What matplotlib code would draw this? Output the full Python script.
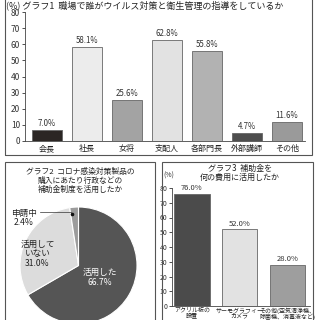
import matplotlib
matplotlib.use('Agg')
import matplotlib.pyplot as plt
from matplotlib.patches import Rectangle

plt.rcParams['font.family'] = ['Noto Sans CJK JP', 'DejaVu Sans']

# グラフ1
roles = ['会長', '社長', '女将', '支配人', '各部門長', '外部講師', 'その他']
role_pct = [7.0, 58.1, 25.6, 62.8, 55.8, 4.7, 11.6]
role_colors = ['#2b2624', '#ececec', '#a3a3a3', '#e2e2e2', '#b2b2b2', '#4e4e4e', '#9a9a9a']

# グラフ2
pie_labels = ['活用した', '活用して\nいない', '申請中']
pie_pct = [66.7, 31.0, 2.4]
pie_colors = ['#555555', '#dcdcdc', '#9c9c9c']

# グラフ3
uses = ['アクリル板の\n設置', 'サーモグラフィー\nカメラ', 'その他(空気清浄機、\n除菌機、消毒液など)']
use_pct = [76.0, 52.0, 28.0]
use_colors = ['#4b4b4b', '#e2e2e2', '#9e9e9e']

W = 320
fig = plt.figure(figsize=(3.2, 3.2), dpi=100)
fig.patch.set_facecolor('white')


def box(x0, y0, x1, y1):
    # pixel coords (top-left origin) -> figure rectangle
    r = Rectangle((x0 / W, 1 - y1 / W), (x1 - x0) / W, (y1 - y0) / W,
                  transform=fig.transFigure, fill=False, lw=0.8, ec='#555555')
    fig.add_artist(r)


def style_axis(ax, size=6):
    for s in ['top', 'right']:
        ax.spines[s].set_visible(False)
    ax.spines['left'].set_color('#444444')
    ax.spines['bottom'].set_color('#444444')
    ax.spines['left'].set_linewidth(0.6)
    ax.spines['bottom'].set_linewidth(0.6)
    ax.tick_params(axis='y', length=2.5, width=0.6, pad=1, labelsize=size, colors='#333333')
    ax.tick_params(axis='x', length=0, pad=2, labelsize=5.8, colors='#222222')


# --- Graph 1 ---
box(5, -2, 312, 155)
fig.text(6 / W, 1 - 5 / W, '(%) グラフ1  職場で誰がウイルス対策と衛生管理の指導をしているか',
         fontsize=6.5, va='center', ha='left', color='#222222')
ax1 = fig.add_axes([25 / W, 179 / W, 280 / W, 129 / W])
x1 = range(len(roles))
ax1.bar(x1, role_pct, width=0.75, color=role_colors, edgecolor='#666666', linewidth=0.6)
for i, v in enumerate(role_pct):
    ax1.text(i, v + 1.2, f'{v:.1f}%', ha='center', va='bottom', fontsize=5.7, color='#333333')
ax1.set_xlim(-0.55, 6.45)
ax1.set_ylim(0, 80)
ax1.set_yticks(range(0, 81, 10))
ax1.set_xticks(list(x1))
ax1.set_xticklabels(roles)
style_axis(ax1, 6)

# --- Graph 2 ---
box(5, 162, 155, 325)
fig.text(80 / W, 1 - 181 / W, 'グラフ2  コロナ感染対策製品の\n購入にあたり行政などの\n補助金制度を活用したか',
         fontsize=5.6, ha='center', va='center', linespacing=1.1, style='italic', color='#222222')
R = 58.5
ax2 = fig.add_axes([(78.5 - R) / W, 1 - (265.5 + R) / W, 2 * R / W, 2 * R / W])
ax2.pie(pie_pct, colors=pie_colors, startangle=90, counterclock=False,
        wedgeprops=dict(edgecolor='white', linewidth=0.8))
ax2.set_xlim(-1, 1)
ax2.set_ylim(-1, 1)
ax2.set_aspect('equal')
ax2.text(0.37, -0.2, pie_labels[0] + '\n66.7%', ha='center', va='center', fontsize=6.2,
         color='white', linespacing=1.1)
ax2.text(-0.7, 0.2, pie_labels[1] + '\n31.0%', ha='center', va='center', fontsize=6.2,
         color='#222222', linespacing=1.1)
fig.text(24 / W, 1 - 218 / W, pie_labels[2] + '\n2.4%', ha='center', va='center', fontsize=6.2,
         color='#222222', linespacing=1.1)
fig.add_artist(plt.Line2D([40 / W, 71 / W], [1 - 212 / W, 1 - 212 / W],
                          transform=fig.transFigure, lw=0.5, color='#333333'))
fig.add_artist(plt.Line2D([72 / W], [1 - 213.5 / W], transform=fig.transFigure,
                          marker='o', ms=1.6, color='#111111'))

# --- Graph 3 ---
box(162, 162, 313, 325)
fig.text(240 / W, 1 - 173 / W, 'グラフ3  補助金を\n何の費用に活用したか',
         fontsize=5.8, ha='center', va='center', linespacing=1.1, style='italic', color='#222222')
fig.text(163 / W, 1 - 176 / W, '(%)', fontsize=5, ha='left', va='center', color='#333333')
ax3 = fig.add_axes([172 / W, 14 / W, 138 / W, 118 / W])
x3 = range(len(uses))
ax3.bar(x3, use_pct, width=0.74, color=use_colors, edgecolor='#666666', linewidth=0.6)
for i, v in enumerate(use_pct):
    ax3.text(i, v + 1.0, f'{v:.1f}%', ha='center', va='bottom', fontsize=5.5, color='#333333')
ax3.set_xlim(-0.42, 2.48)
ax3.set_ylim(0, 80)
ax3.set_yticks(range(0, 81, 10))
ax3.set_xticks(list(x3))
ax3.set_xticklabels(uses, linespacing=1.0)
style_axis(ax3, 5)
ax3.tick_params(axis='x', labelsize=4.3, pad=1)

fig.savefig('out.png', dpi=100, facecolor='white')
